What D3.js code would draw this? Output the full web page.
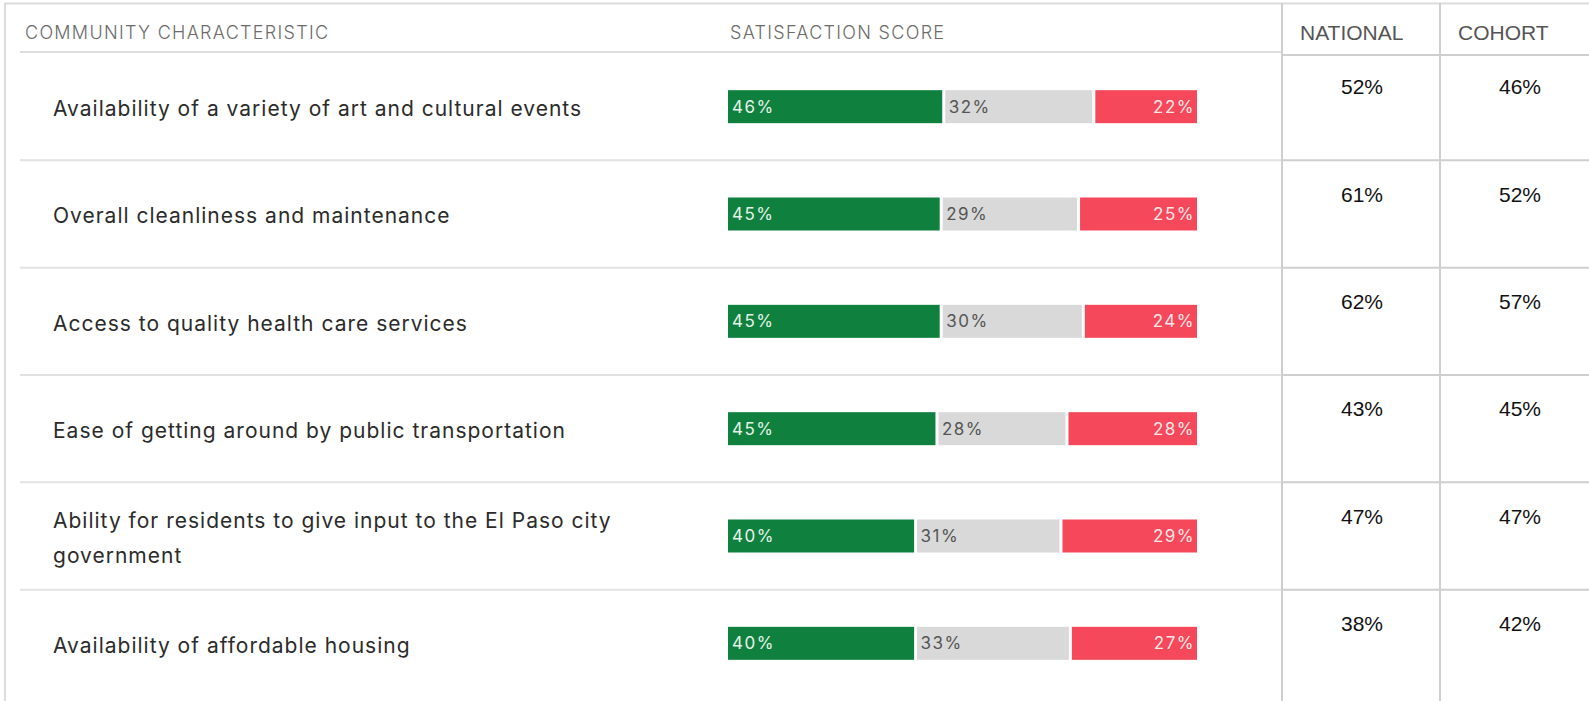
<!DOCTYPE html>
<html>
<head>
<meta charset="utf-8">
<script src="https://cdn.jsdelivr.net/npm/d3@7"></script>
<style>
  html, body { margin: 0; padding: 0; background: #fff; }
  svg { display: block; }
</style>
</head>
<body>
<div id="chart"></div>
<script>
// data
var characteristics = [
    "Availability of a variety of art and cultural events",
    "Overall cleanliness and maintenance",
    "Access to quality health care services",
    "Ease of getting around by public transportation",
    "Ability for residents to give input to the El Paso city government",
    "Availability of affordable housing"
];
var satisfied = [46, 45, 45, 45, 40, 40];
var neutral = [32, 29, 30, 28, 31, 33];
var dissatisfied = [22, 25, 24, 28, 29, 27];
var national = [52, 61, 62, 43, 47, 38];
var cohort = [46, 52, 57, 45, 47, 42];
var compareColumns = ["NATIONAL", "COHORT"];

var width = 1589, height = 701;
var labelFont = "Inter, 'Noto Sans', sans-serif";
var tableFont = "'Liberation Sans', Arial, sans-serif";

var rows = characteristics.map(function (c, i) {
    return { name: c, satisfied: satisfied[i], neutral: neutral[i], dissatisfied: dissatisfied[i] };
});
var keys = ["satisfied", "neutral", "dissatisfied"];
var colors = { satisfied: "#10803f", neutral: "#d9d9d9", dissatisfied: "#f5485a" };
var textColors = { satisfied: "#e3f3e7", neutral: "#555", dissatisfied: "#ffe6e8" };

var series = d3.stack().keys(keys).offset(d3.stackOffsetExpand)(rows);

var svg = d3.select("#chart").append("svg")
    .attr("width", width)
    .attr("height", height);

// scales
var y = d3.scaleBand().domain(characteristics).range([53, 697]);
var x = d3.scaleLinear().domain([0, 1]).range([728, 1197]);
var col = d3.scaleBand().domain(compareColumns).range([1282, 1598]);

// outer frame
svg.append("line").attr("x1", 4).attr("x2", width).attr("y1", 3.5).attr("y2", 3.5)
    .style("stroke", "#dcdcdc").style("stroke-width", 2);
svg.append("line").attr("x1", 5).attr("x2", 5).attr("y1", 3).attr("y2", height)
    .style("stroke", "#dcdcdc").style("stroke-width", 2);

// headers
var headers = [["COMMUNITY CHARACTERISTIC", 25], ["SATISFACTION SCORE", 730]];
svg.selectAll("text.head")
    .data(headers)
    .enter().append("text")
    .attr("class", "head")
    .attr("x", function (d) { return d[1]; })
    .attr("y", 33)
    .attr("dy", "0.35em")
    .style("font-family", labelFont)
    .style("font-size", "18px")
    .style("font-weight", 300)
    .style("letter-spacing", "1.3px")
    .style("fill", "#6b6b6b")
    .text(function (d) { return d[0]; });

svg.selectAll("text.colhead")
    .data(compareColumns)
    .enter().append("text")
    .attr("class", "colhead")
    .attr("x", function (d) { return col(d) + 18; })
    .attr("y", 33)
    .attr("dy", "0.35em")
    .style("font-family", tableFont)
    .style("font-size", "21px")
    .style("fill", "#555")
    .text(function (d) { return d; });

// row separators (left part)
svg.append("line").attr("x1", 20).attr("x2", 1282).attr("y1", 52).attr("y2", 52)
    .style("stroke", "#dedede").style("stroke-width", 2);
svg.selectAll("line.rowline")
    .data(characteristics.slice(1))
    .enter().append("line")
    .attr("class", "rowline")
    .attr("x1", 20).attr("x2", 1282)
    .attr("y1", function (d) { return y(d); })
    .attr("y2", function (d) { return y(d); })
    .style("stroke", "#e2e2e2").style("stroke-width", 2);

// right table grid
svg.append("line").attr("x1", 1282).attr("x2", width).attr("y1", 55).attr("y2", 55)
    .style("stroke", "#cfcfcf").style("stroke-width", 2);
svg.selectAll("line.rline")
    .data(characteristics.slice(1))
    .enter().append("line")
    .attr("class", "rline")
    .attr("x1", 1282).attr("x2", width)
    .attr("y1", function (d) { return y(d); })
    .attr("y2", function (d) { return y(d); })
    .style("stroke", "#cfcfcf").style("stroke-width", 2);
svg.selectAll("line.vline")
    .data(compareColumns)
    .enter().append("line")
    .attr("class", "vline")
    .attr("x1", function (d) { return col(d); })
    .attr("x2", function (d) { return col(d); })
    .attr("y1", 3).attr("y2", height)
    .style("stroke", "#cfcfcf").style("stroke-width", 2);

// labels with wrapping
var labels = svg.selectAll("text.label")
    .data(characteristics)
    .enter().append("text")
    .attr("class", "label")
    .attr("x", 53)
    .style("font-family", labelFont)
    .style("font-size", "21px")
    .style("letter-spacing", "1px")
    .style("fill", "#2b2b2b");

labels.each(function (d) {
    var t = d3.select(this);
    var words = d.split(" "), lines = [], line = [];
    var probe = t.append("tspan");
    words.forEach(function (w) {
        line.push(w);
        probe.text(line.join(" "));
        if (probe.node().getComputedTextLength() > 600 && line.length > 1) {
            line.pop();
            lines.push(line.join(" "));
            line = [w];
        }
    });
    lines.push(line.join(" "));
    probe.remove();
    var cy = y(d) + y.bandwidth() / 2 + 2;
    var lh = 35;
    lines.forEach(function (l, i) {
        t.append("tspan")
            .attr("x", 53)
            .attr("y", cy + (i - (lines.length - 1) / 2) * lh)
            .attr("dy", "0.35em")
            .text(l);
    });
});

// stacked bars
var barH = 33;
var layers = svg.selectAll("g.layer")
    .data(series)
    .enter().append("g")
    .attr("class", "layer");

layers.selectAll("rect")
    .data(function (s) { return s.map(function (p) { return { key: s.key, index: s.index, p: p }; }); })
    .enter().append("rect")
    .attr("x", function (d) { return x(d.p[0]) + (d.index > 0 ? 1.5 : 0); })
    .attr("width", function (d) {
        var w = x(d.p[1]) - x(d.p[0]);
        if (d.index > 0) w -= 1.5;
        if (d.index < keys.length - 1) w -= 1.5;
        return w;
    })
    .attr("y", function (d) { return y(d.p.data.name) + y.bandwidth() / 2 - barH / 2; })
    .attr("height", barH)
    .style("fill", function (d) { return colors[d.key]; });

layers.selectAll("text")
    .data(function (s) { return s.map(function (p) { return { key: s.key, index: s.index, p: p }; }); })
    .enter().append("text")
    .attr("x", function (d) {
        return d.key === "dissatisfied" ? x(d.p[1]) - 2 : x(d.p[0]) + (d.index > 0 ? 5 : 4);
    })
    .attr("y", function (d) { return y(d.p.data.name) + y.bandwidth() / 2; })
    .attr("dy", "0.35em")
    .attr("text-anchor", function (d) { return d.key === "dissatisfied" ? "end" : "start"; })
    .style("font-family", labelFont)
    .style("font-size", "17px")
    .style("letter-spacing", "1.5px")
    .style("fill", function (d) { return textColors[d.key]; })
    .text(function (d) { return d.p.data[d.key] + "%"; });

// national / cohort values
var compareValues = [national, cohort];
compareColumns.forEach(function (c, ci) {
    svg.selectAll("text.val" + ci)
        .data(characteristics)
        .enter().append("text")
        .attr("class", "val" + ci)
        .attr("x", col(c) + col.bandwidth() / 2 + 1)
        .attr("y", function (d) { return y(d) + 34; })
        .attr("dy", "0.35em")
        .attr("text-anchor", "middle")
        .style("font-family", tableFont)
        .style("font-size", "21px")
        .style("fill", "#111")
        .text(function (d, i) { return compareValues[ci][i] + "%"; });
});
</script>
</body>
</html>
